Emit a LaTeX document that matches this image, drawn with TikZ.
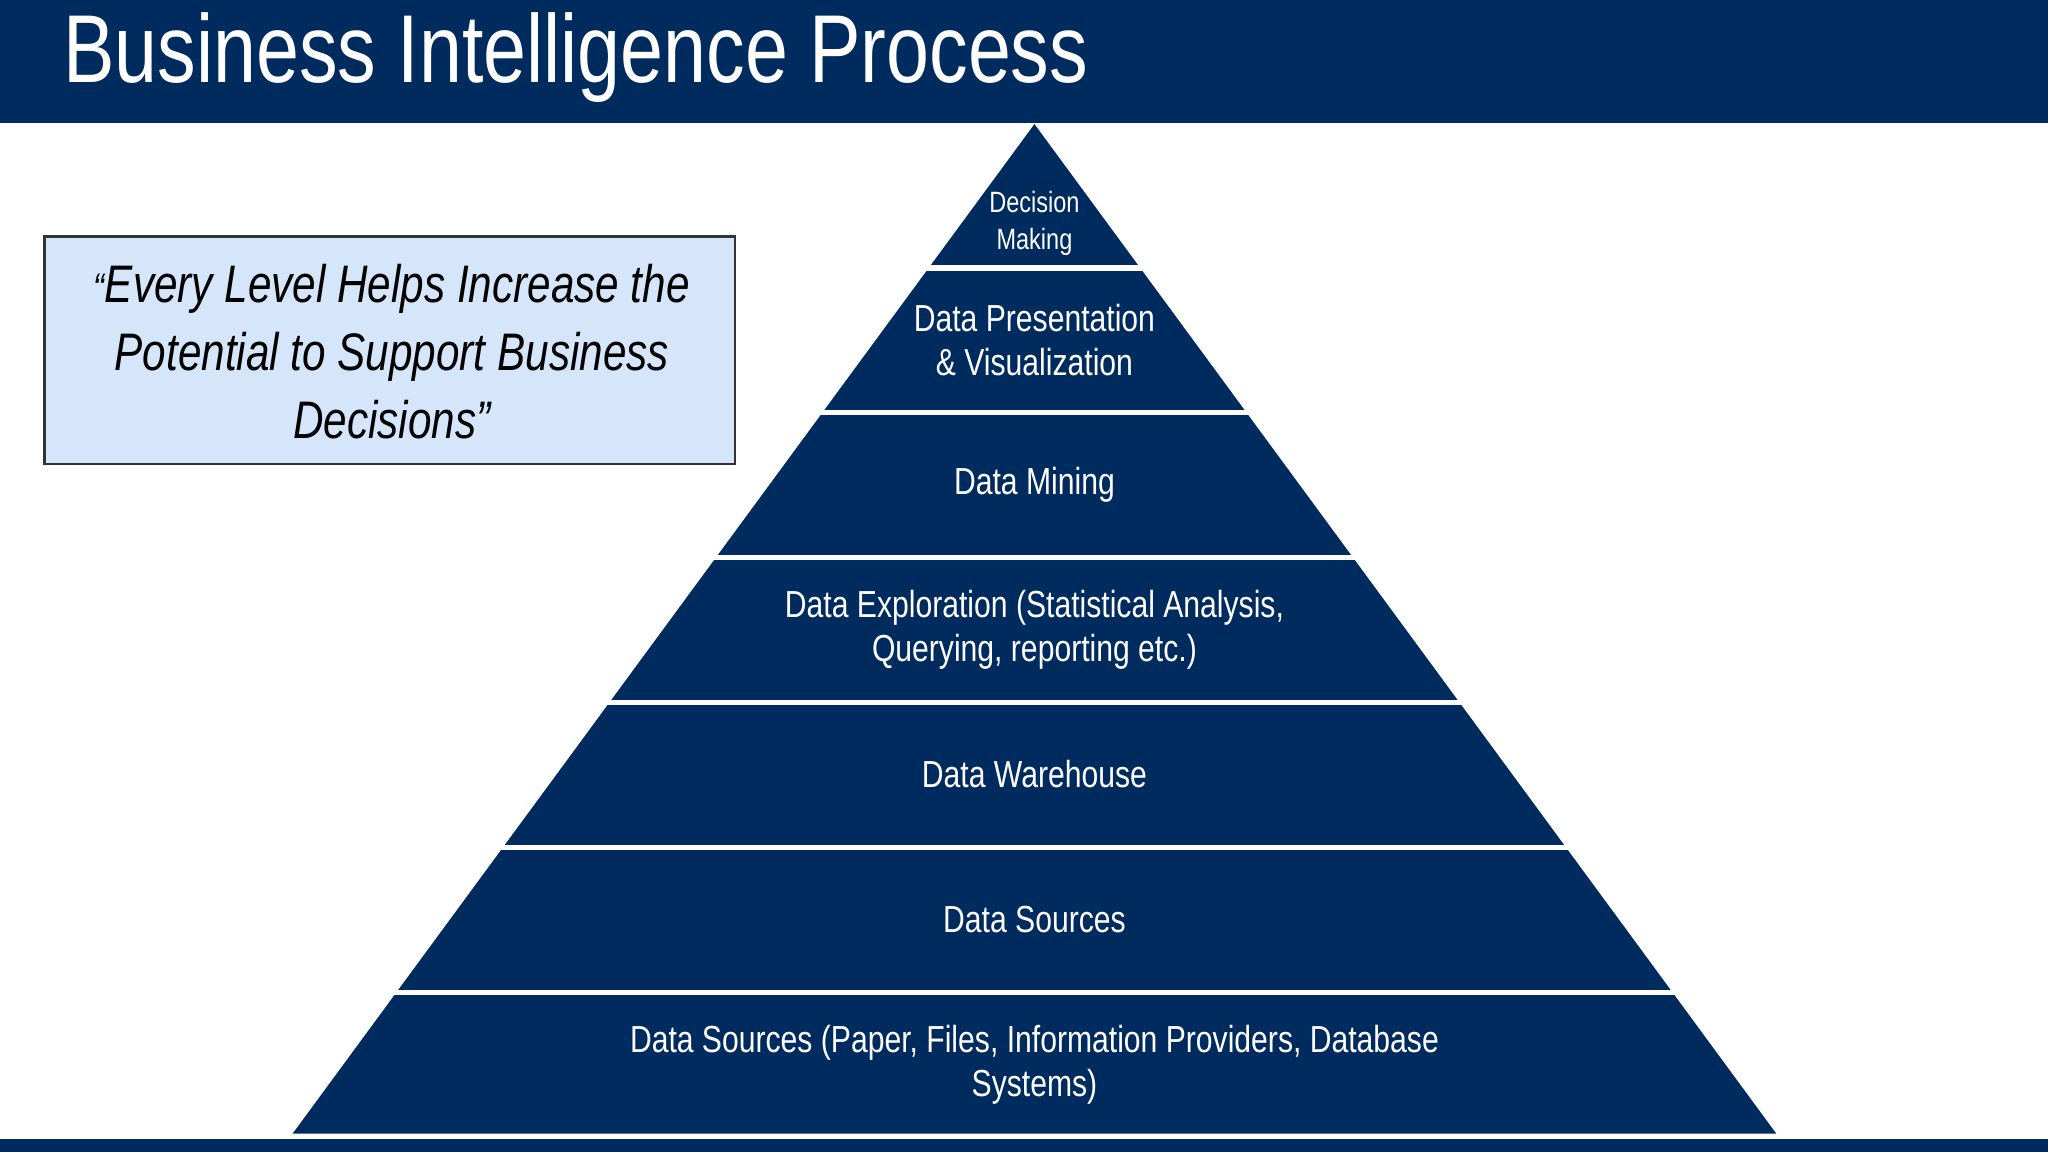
\documentclass[tikz,border=0pt]{standalone}
\usepackage{fontspec}
\setmainfont{Liberation Sans}
\definecolor{navy}{RGB}{0,43,94}
\definecolor{qbox}{RGB}{214,230,250}
\newcommand{\cond}[1]{\scalebox{0.8}[1]{#1}}
\begin{document}
\begin{tikzpicture}[x=0.01cm,y=-0.01cm,
  lay/.style={text=white,align=center,font=\fontsize{8.2pt}{9.6pt}\selectfont},
  sep/.style={white,line width=1.2pt}]
\useasboundingbox (0,0) rectangle (1568,882);
\fill[navy] (0,0) rectangle (1568,94);
\fill[navy] (0,872) rectangle (1568,882);
\node[anchor=west,text=white,font=\fontsize{21pt}{24pt}\selectfont] (title) at (36,44) {\cond{Business Intelligence Process}};
\coordinate (apex) at (792,95);
\coordinate (bl) at (224,868);
\coordinate (br) at (1360,868);
\fill[navy] (apex) -- (br) -- (bl) -- cycle;
\foreach \y in {205,316,427,538,649,760}{
  \pgfmathsetmacro\hw{(\y-95)/773*568+10}
  \draw[sep] (792-\hw,\y) -- (792+\hw,\y);
}
\node[lay,font=\fontsize{6.4pt}{8pt}\selectfont] (l1) at (792,171) {\cond{Decision}\\\cond{Making}};
\node[lay] (l2) at (792,260) {\cond{Data Presentation}\\\cond{\& Visualization}};
\node[lay] (l3) at (792,371) {\cond{Data Mining}};
\node[lay] (l4) at (792,482) {\cond{Data Exploration (Statistical  Analysis,}\\\cond{Querying, reporting etc.)}};
\node[lay] (l5) at (792,593) {\cond{Data Warehouse}};
\node[lay] (l6) at (792,704) {\cond{Data Sources}};
\node[lay] (l7) at (792,815) {\cond{Data Sources (Paper, Files, Information Providers, Database}\\\cond{Systems)}};
\draw[fill=qbox,draw=black!80,line width=0.5pt] (34,181) rectangle (563,355);
\node[align=center,font=\itshape\fontsize{11.5pt}{14.8pt}\selectfont] (quote) at (300,269)
 {\cond{\small“}\cond{Every Level Helps Increase the}\\\cond{Potential to Support Business}\\\cond{Decisions”}};
\end{tikzpicture}
\end{document}
